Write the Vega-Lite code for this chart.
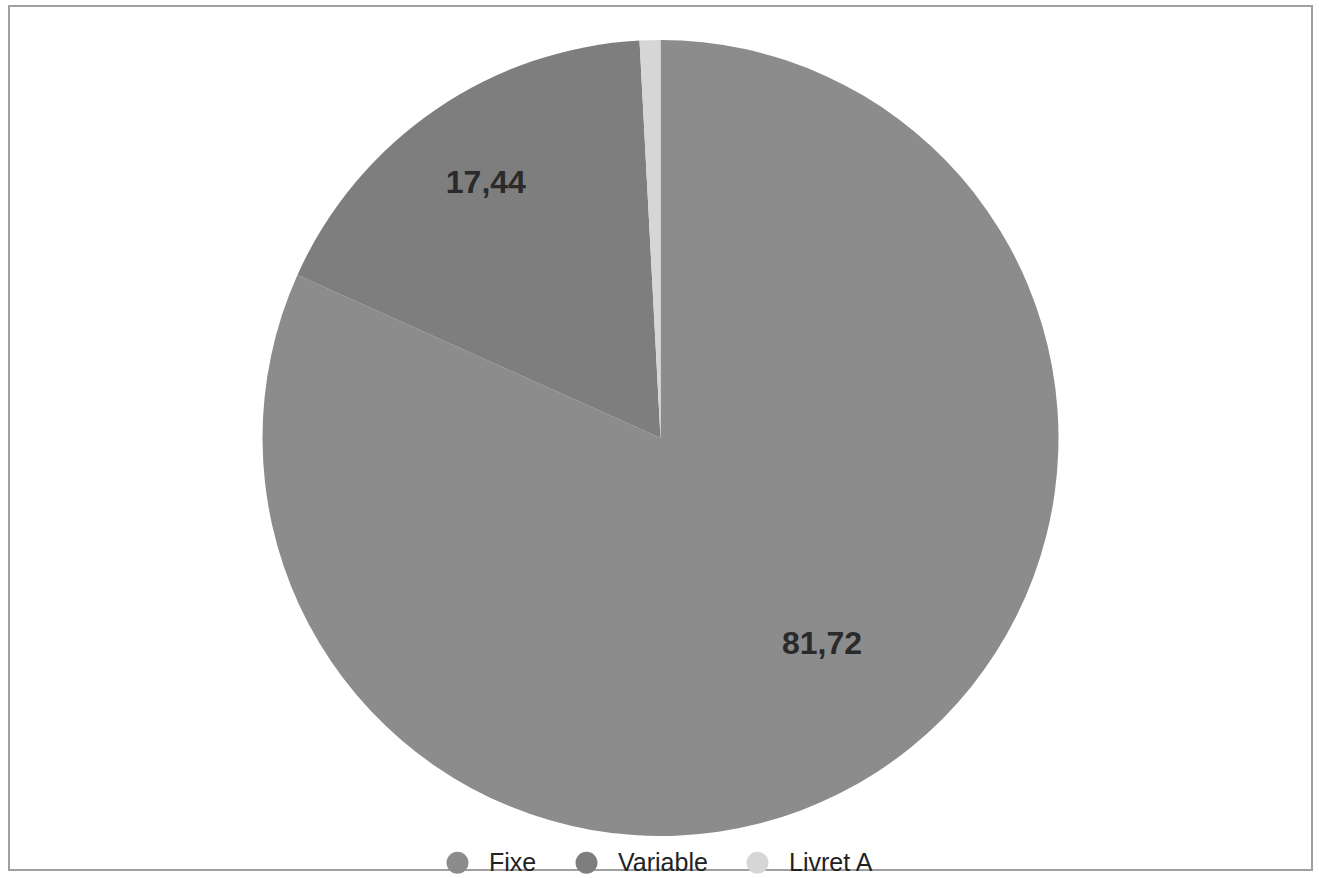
{
  "$schema": "https://vega.github.io/schema/vega-lite/v6.json",
  "width": 1319,
  "height": 878,
  "autosize": {"type": "fit", "contains": "padding"},
  "padding": {"left": 8, "top": 5, "right": 6, "bottom": 7},
  "background": "white",
  "config": {
    "view": {"stroke": null},
    "font": "Liberation Sans"
  },
  "data": {
    "values": [
      {"type": "Fixe", "value": 81.72, "label": "81,72"},
      {"type": "Variable", "value": 17.44, "label": "17,44"},
      {"type": "Livret A", "value": 0.84, "label": ""}
    ]
  },
  "encoding": {
    "theta": {"field": "value", "type": "quantitative", "stack": true},
    "order": {"field": "value", "type": "quantitative", "sort": "descending"}
  },
  "layer": [
    {
      "data": {"values": [{"frame": 1}]},
      "mark": {"type": "rect", "fill": null, "stroke": "#a0a0a0", "strokeWidth": 2},
      "encoding": {"theta": null, "order": null}
    },
    {
      "mark": {"type": "arc", "outerRadius": 398, "stroke": null},
      "encoding": {
        "color": {
          "field": "type",
          "type": "nominal",
          "sort": ["Fixe", "Variable", "Livret A"],
          "scale": {"domain": ["Fixe", "Variable", "Livret A"], "range": ["#8c8c8c", "#7e7e7e", "#d6d6d6"]},
          "legend": {
            "orient": "none",
            "direction": "horizontal",
            "legendX": 436,
            "legendY": 844,
            "title": null,
            "symbolType": "circle",
            "symbolSize": 480,
            "symbolStrokeWidth": 0,
            "labelFontSize": 25,
            "labelColor": "#222222",
            "labelFont": "Liberation Sans",
            "columnPadding": 37,
            "labelOffset": 19
          }
        }
      }
    },
    {
      "mark": {
        "type": "text",
        "thetaOffset": {"expr": "datum.type === 'Fixe' ? -0.09 : 0"},
        "radius": {"expr": "datum.type === 'Fixe' ? 262 : 309"},
        "fontSize": 32,
        "fontWeight": "bold",
        "color": "#2a2a2a",
        "font": "Liberation Sans"
      },
      "encoding": {
        "text": {"field": "label", "type": "nominal"}
      }
    }
  ]
}
